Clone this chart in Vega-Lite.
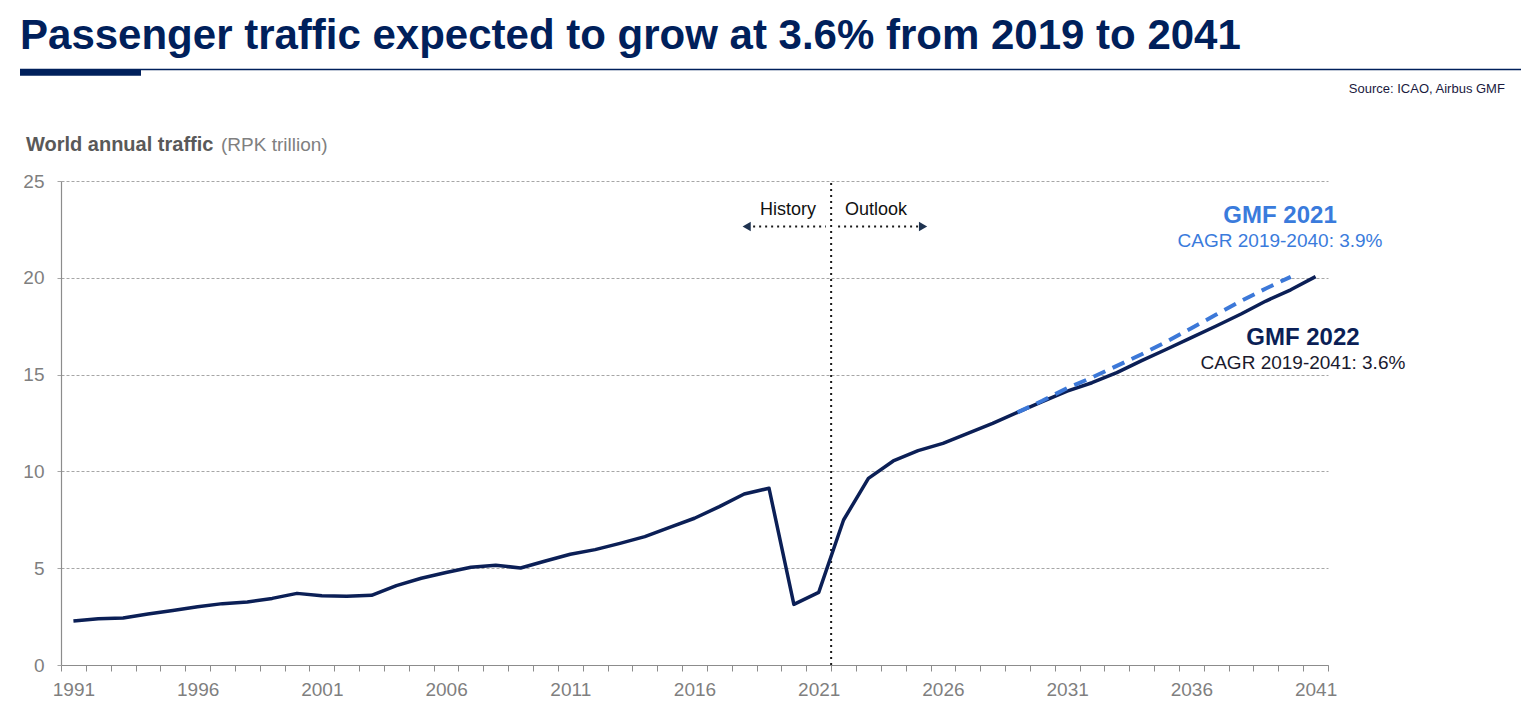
{
  "$schema": "https://vega.github.io/schema/vega-lite/v6.json",
  "autosize": "none",
  "width": 1267,
  "height": 484,
  "padding": {"left": 61, "top": 181, "right": 193, "bottom": 63},
  "background": "white",
  "config": {"font": "Liberation Sans", "view": {"stroke": null}},
  "datasets": {
    "traffic": [
      {"year": 1991, "value": 2.27, "series": "GMF 2022"},
      {"year": 1992, "value": 2.39, "series": "GMF 2022"},
      {"year": 1993, "value": 2.43, "series": "GMF 2022"},
      {"year": 1994, "value": 2.63, "series": "GMF 2022"},
      {"year": 1995, "value": 2.82, "series": "GMF 2022"},
      {"year": 1996, "value": 3.01, "series": "GMF 2022"},
      {"year": 1997, "value": 3.17, "series": "GMF 2022"},
      {"year": 1998, "value": 3.25, "series": "GMF 2022"},
      {"year": 1999, "value": 3.44, "series": "GMF 2022"},
      {"year": 2000, "value": 3.70, "series": "GMF 2022"},
      {"year": 2001, "value": 3.58, "series": "GMF 2022"},
      {"year": 2002, "value": 3.55, "series": "GMF 2022"},
      {"year": 2003, "value": 3.60, "series": "GMF 2022"},
      {"year": 2004, "value": 4.10, "series": "GMF 2022"},
      {"year": 2005, "value": 4.48, "series": "GMF 2022"},
      {"year": 2006, "value": 4.78, "series": "GMF 2022"},
      {"year": 2007, "value": 5.05, "series": "GMF 2022"},
      {"year": 2008, "value": 5.15, "series": "GMF 2022"},
      {"year": 2009, "value": 5.01, "series": "GMF 2022"},
      {"year": 2010, "value": 5.37, "series": "GMF 2022"},
      {"year": 2011, "value": 5.72, "series": "GMF 2022"},
      {"year": 2012, "value": 5.96, "series": "GMF 2022"},
      {"year": 2013, "value": 6.28, "series": "GMF 2022"},
      {"year": 2014, "value": 6.63, "series": "GMF 2022"},
      {"year": 2015, "value": 7.11, "series": "GMF 2022"},
      {"year": 2016, "value": 7.58, "series": "GMF 2022"},
      {"year": 2017, "value": 8.18, "series": "GMF 2022"},
      {"year": 2018, "value": 8.83, "series": "GMF 2022"},
      {"year": 2019, "value": 9.13, "series": "GMF 2022"},
      {"year": 2020, "value": 3.13, "series": "GMF 2022"},
      {"year": 2021, "value": 3.75, "series": "GMF 2022"},
      {"year": 2022, "value": 7.49, "series": "GMF 2022"},
      {"year": 2023, "value": 9.64, "series": "GMF 2022"},
      {"year": 2024, "value": 10.54, "series": "GMF 2022"},
      {"year": 2025, "value": 11.07, "series": "GMF 2022"},
      {"year": 2026, "value": 11.45, "series": "GMF 2022"},
      {"year": 2027, "value": 11.97, "series": "GMF 2022"},
      {"year": 2028, "value": 12.48, "series": "GMF 2022"},
      {"year": 2029, "value": 13.05, "series": "GMF 2022"},
      {"year": 2030, "value": 13.60, "series": "GMF 2022"},
      {"year": 2031, "value": 14.15, "series": "GMF 2022"},
      {"year": 2032, "value": 14.58, "series": "GMF 2022"},
      {"year": 2033, "value": 15.10, "series": "GMF 2022"},
      {"year": 2034, "value": 15.72, "series": "GMF 2022"},
      {"year": 2035, "value": 16.31, "series": "GMF 2022"},
      {"year": 2036, "value": 16.91, "series": "GMF 2022"},
      {"year": 2037, "value": 17.51, "series": "GMF 2022"},
      {"year": 2038, "value": 18.13, "series": "GMF 2022"},
      {"year": 2039, "value": 18.80, "series": "GMF 2022"},
      {"year": 2040, "value": 19.38, "series": "GMF 2022"},
      {"year": 2041, "value": 20.06, "series": "GMF 2022"},
      {"year": 2029, "value": 13.05, "series": "GMF 2021"},
      {"year": 2030, "value": 13.65, "series": "GMF 2021"},
      {"year": 2031, "value": 14.30, "series": "GMF 2021"},
      {"year": 2032, "value": 14.85, "series": "GMF 2021"},
      {"year": 2033, "value": 15.45, "series": "GMF 2021"},
      {"year": 2034, "value": 16.05, "series": "GMF 2021"},
      {"year": 2035, "value": 16.70, "series": "GMF 2021"},
      {"year": 2036, "value": 17.40, "series": "GMF 2021"},
      {"year": 2037, "value": 18.10, "series": "GMF 2021"},
      {"year": 2038, "value": 18.80, "series": "GMF 2021"},
      {"year": 2039, "value": 19.45, "series": "GMF 2021"},
      {"year": 2040, "value": 20.05, "series": "GMF 2021"}
    ]
  },
  "data": {"name": "traffic"},
  "encoding": {
    "x": {
      "field": "year",
      "type": "quantitative",
      "scale": {"domain": [1990.5, 2041.5], "nice": false, "zero": false},
      "axis": {
        "title": null,
        "grid": false,
        "values": [1990.5, 1991.5, 1992.5, 1993.5, 1994.5, 1995.5, 1996.5, 1997.5, 1998.5, 1999.5, 2000.5, 2001.5, 2002.5, 2003.5, 2004.5, 2005.5, 2006.5, 2007.5, 2008.5, 2009.5, 2010.5, 2011.5, 2012.5, 2013.5, 2014.5, 2015.5, 2016.5, 2017.5, 2018.5, 2019.5, 2020.5, 2021.5, 2022.5, 2023.5, 2024.5, 2025.5, 2026.5, 2027.5, 2028.5, 2029.5, 2030.5, 2031.5, 2032.5, 2033.5, 2034.5, 2035.5, 2036.5, 2037.5, 2038.5, 2039.5, 2040.5, 2041.5],
        "labelExpr": "(datum.value + 0.5 - 1991) % 5 == 0 && datum.value < 2041 ? '' + (datum.value + 0.5) : ''",
        "labelOffset": 12.42,
        "labelFlush": false,
        "labelOverlap": false,
        "labelBound": false,
        "labelFontSize": 19,
        "labelColor": "#7f7f7f",
        "labelPadding": 9,
        "tickSize": 6,
        "tickColor": "#8c8c8c",
        "domainColor": "#8c8c8c",
        "domainWidth": 1.2
      }
    },
    "y": {
      "field": "value",
      "type": "quantitative",
      "scale": {"domain": [0, 25], "nice": false},
      "axis": {
        "title": null,
        "values": [0, 5, 10, 15, 20, 25],
        "grid": true,
        "gridDash": [3, 2],
        "gridColor": "#a6a6a6",
        "gridWidth": 1,
        "tickSize": 4,
        "tickColor": "#a6a6a6",
        "domainColor": "#8c8c8c",
        "domainWidth": 1.2,
        "labelFontSize": 19,
        "labelColor": "#7f7f7f",
        "labelPadding": 13
      }
    }
  },
  "layer": [
    {
      "transform": [{"filter": "datum.year == 1991 && datum.series == 'GMF 2022'"}],
      "mark": {"type": "rule", "strokeDash": [2, 4], "strokeWidth": 2, "color": "#1a1a1a"},
      "encoding": {"x": {"datum": 2021.5}, "y": {"datum": 0}, "y2": {"datum": 25}}
    },
    {
      "transform": [{"filter": "datum.series == 'GMF 2022'"}],
      "mark": {"type": "line", "color": "#0b1f56", "strokeWidth": 3.5, "strokeJoin": "round"}
    },
    {
      "transform": [{"filter": "datum.series == 'GMF 2021'"}],
      "mark": {"type": "line", "color": "#3c78d8", "strokeWidth": 4, "strokeDash": [13, 8]}
    },
    {
      "transform": [{"filter": "datum.year == 1991 && datum.series == 'GMF 2022'"}],
      "layer": [
        {
          "mark": {"type": "rule", "strokeDash": [2, 4], "strokeWidth": 2, "color": "#1a1a1a"},
          "encoding": {"x": {"datum": 2018.36}, "x2": {"datum": 2021.29}, "y": {"datum": 22.65}}
        },
        {
          "mark": {"type": "rule", "strokeDash": [2, 4], "strokeWidth": 2, "color": "#1a1a1a"},
          "encoding": {"x": {"datum": 2021.78}, "x2": {"datum": 2025.0}, "y": {"datum": 22.65}}
        },
        {
          "mark": {"type": "point", "shape": "triangle-left", "filled": true, "size": 90, "color": "#1f3350", "opacity": 1},
          "encoding": {"x": {"datum": 2018.1}, "y": {"datum": 22.65}}
        },
        {
          "mark": {"type": "point", "shape": "triangle-right", "filled": true, "size": 90, "color": "#1f3350", "opacity": 1},
          "encoding": {"x": {"datum": 2025.2}, "y": {"datum": 22.65}}
        },
        {
          "mark": {"type": "text", "text": "History", "fontSize": 18, "fill": "#111111", "align": "center", "baseline": "alphabetic"},
          "encoding": {"x": {"datum": 2019.76}, "y": {"datum": 23.24}}
        },
        {
          "mark": {"type": "text", "text": "Outlook", "fontSize": 18, "fill": "#111111", "align": "center", "baseline": "alphabetic"},
          "encoding": {"x": {"datum": 2023.31}, "y": {"datum": 23.24}}
        },
        {
          "mark": {"type": "text", "text": "GMF 2021", "fontSize": 24, "fontWeight": "bold", "fill": "#3a7bdc", "align": "center", "baseline": "alphabetic"},
          "encoding": {"x": {"datum": 2039.57}, "y": {"datum": 22.83}}
        },
        {
          "mark": {"type": "text", "text": "CAGR 2019-2040: 3.9%", "fontSize": 19, "fill": "#3a7bdc", "align": "center", "baseline": "alphabetic"},
          "encoding": {"x": {"datum": 2039.57}, "y": {"datum": 21.59}}
        },
        {
          "mark": {"type": "text", "text": "GMF 2022", "fontSize": 24, "fontWeight": "bold", "fill": "#0b1f56", "align": "center", "baseline": "alphabetic"},
          "encoding": {"x": {"datum": 2040.49}, "y": {"datum": 16.53}}
        },
        {
          "mark": {"type": "text", "text": "CAGR 2019-2041: 3.6%", "fontSize": 19, "fill": "#1a1a2e", "align": "center", "baseline": "alphabetic"},
          "encoding": {"x": {"datum": 2040.49}, "y": {"datum": 15.29}}
        },
        {
          "mark": {"type": "text", "text": "World annual traffic", "fontSize": 20, "fontWeight": "bold", "fill": "#595959", "align": "left", "baseline": "alphabetic"},
          "encoding": {"x": {"datum": 1989.09}, "y": {"datum": 26.55}}
        },
        {
          "mark": {"type": "text", "text": "(RPK trillion)", "fontSize": 19, "fill": "#808080", "align": "left", "baseline": "alphabetic"},
          "encoding": {"x": {"datum": 1996.94}, "y": {"datum": 26.55}}
        },
        {
          "mark": {"type": "text", "text": "Passenger traffic expected to grow at 3.6% from 2019 to 2041", "fontSize": 42, "fontWeight": "bold", "fill": "#00205b", "align": "left", "baseline": "alphabetic"},
          "encoding": {"x": {"datum": 1988.85}, "y": {"datum": 31.82}}
        },
        {
          "mark": {"type": "rule", "strokeWidth": 1.5, "color": "#00205b"},
          "encoding": {"x": {"datum": 1988.85}, "x2": {"datum": 2049.27}, "y": {"datum": 30.76}}
        },
        {
          "mark": {"type": "rule", "strokeWidth": 6.5, "color": "#00205b"},
          "encoding": {"x": {"datum": 1988.85}, "x2": {"datum": 1993.72}, "y": {"datum": 30.61}}
        },
        {
          "mark": {"type": "text", "text": "Source: ICAO, Airbus GMF", "fontSize": 13, "fill": "#1a1a3e", "align": "right", "baseline": "alphabetic"},
          "encoding": {"x": {"datum": 2048.62}, "y": {"datum": 29.55}}
        }
      ]
    }
  ]
}
